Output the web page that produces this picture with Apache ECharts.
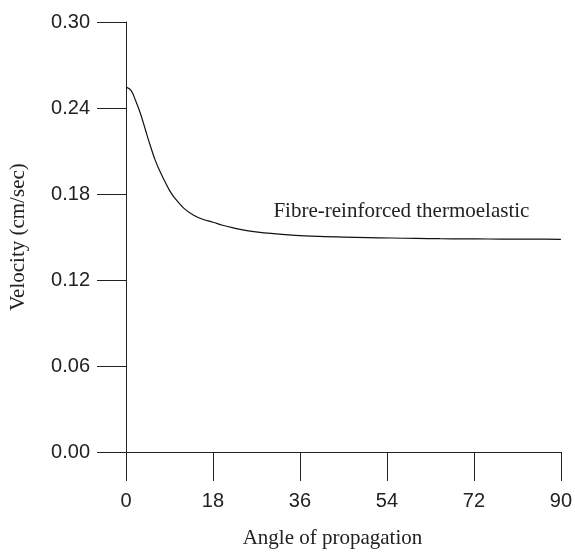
<!DOCTYPE html>
<html>
<head>
<meta charset="utf-8">
<script src="https://cdn.jsdelivr.net/npm/echarts@6/dist/echarts.min.js"></script>
<style>
html,body{margin:0;padding:0;background:#fff;}
#chart{width:575px;height:554px;}
</style>
</head>
<body>
<div id="chart"></div>
<script>
var angles = [0, 1, 2, 3, 4, 5, 6, 7, 8, 9, 10, 12, 14, 16, 18, 20, 22, 25, 30, 35, 40, 45, 50, 55, 60, 65, 70, 75, 80, 85, 90];
var velocity = [0.2546, 0.2525, 0.2450, 0.2360, 0.2250, 0.2140, 0.2040, 0.1960, 0.1890, 0.1825, 0.1775, 0.1700, 0.1652, 0.1622, 0.1603, 0.1582, 0.1565, 0.1545, 0.1525, 0.1512, 0.1504, 0.1499, 0.1496, 0.1493, 0.1490, 0.1488, 0.1487, 0.1486, 0.1485, 0.1485, 0.1484];
var xTicks = [0, 18, 36, 54, 72, 90];
var yTicks = [0.00, 0.06, 0.12, 0.18, 0.24, 0.30];
var seriesLabel = 'Fibre-reinforced thermoelastic';
var labelAt = [57, 0.168];
var xName = 'Angle of propagation';
var yName = 'Velocity (cm/sec)';

var chart = echarts.init(document.getElementById('chart'), null, {renderer: 'canvas'});
var axisColor = '#222';
var pts = angles.map(function (a, i) { return [a, velocity[i]]; });
chart.setOption({
  animation: false,
  backgroundColor: '#fff',
  grid: {left: 126, right: 12, top: 22, bottom: 95},
  xAxis: {
    type: 'value', min: xTicks[0], max: xTicks[xTicks.length - 1], interval: 18,
    name: xName, nameLocation: 'middle', nameGap: 76,
    nameTextStyle: {fontFamily: 'Liberation Serif', fontSize: 21, color: axisColor, padding: [0, 22, 0, 0]},
    axisLine: {show: true, lineStyle: {color: axisColor, width: 1}},
    axisTick: {show: true, inside: false, length: 29, lineStyle: {color: axisColor, width: 1}},
    axisLabel: {margin: 39, fontFamily: 'Liberation Sans', fontSize: 20, color: axisColor,
      formatter: function (v) { return String(v); }},
    splitLine: {show: false}
  },
  yAxis: {
    type: 'value', min: 0, max: 0.30, interval: 0.06,
    name: yName, nameLocation: 'middle', nameGap: 97,
    nameTextStyle: {fontFamily: 'Liberation Serif', fontSize: 21, color: axisColor},
    axisLine: {show: true, lineStyle: {color: axisColor, width: 1}},
    axisTick: {show: true, inside: false, length: 29, lineStyle: {color: axisColor, width: 1}},
    axisLabel: {margin: 36, fontFamily: 'Liberation Sans', fontSize: 20, color: axisColor,
      formatter: function (v) { return v.toFixed(2); }},
    splitLine: {show: false}
  },
  series: [{
    type: 'line', data: pts, smooth: 0.4, showSymbol: false, symbol: 'none',
    lineStyle: {color: '#111', width: 1.2}
  }]
});
var p = chart.convertToPixel({gridIndex: 0}, labelAt);
chart.setOption({
  graphic: [{
    type: 'text', x: p[0], y: p[1], silent: true,
    style: {text: seriesLabel, fontFamily: 'Liberation Serif', fontSize: 21, fill: axisColor,
      align: 'center', verticalAlign: 'middle'}
  }]
});
</script>
</body>
</html>
